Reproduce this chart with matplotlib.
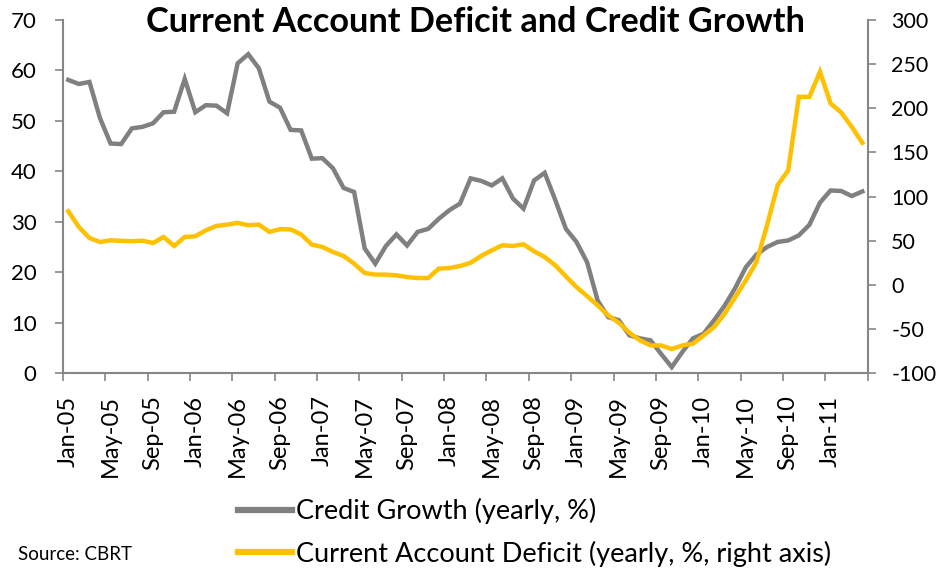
import numpy as np
import matplotlib.pyplot as plt
from matplotlib.lines import Line2D

# monthly data, Jan-05 .. Apr-11
credit_growth = [58.1, 57.3, 57.7, 50.5, 45.5, 45.4, 48.5, 48.8, 49.5, 51.7,
                 51.8, 58.3, 51.7, 53.1, 53.0, 51.5, 61.4, 63.2, 60.4, 53.8,
                 52.6, 48.2, 48.1, 42.5, 42.6, 40.6, 36.7, 35.9, 24.7, 21.7,
                 25.2, 27.5, 25.3, 28.0, 28.6, 30.6, 32.3, 33.6, 38.6, 38.1,
                 37.2, 38.6, 34.6, 32.6, 38.2, 39.7, 34.3, 28.6, 26.0, 22.0,
                 14.4, 11.1, 10.5, 7.5, 6.9, 6.5, 3.8, 1.2, 4.2, 6.9,
                 7.8, 10.5, 13.4, 16.9, 21.0, 23.5, 25.0, 26.0, 26.3, 27.3,
                 29.4, 33.8, 36.2, 36.1, 35.1, 36.0]
ca_deficit = [83.3, 65.5, 53.1, 48.5, 50.5, 49.8, 49.4, 50.0, 47.4, 54.2,
              44.0, 54.2, 55.0, 61.8, 66.7, 68.2, 70.1, 67.5, 68.2, 60.0,
              63.0, 62.8, 57.0, 45.6, 42.9, 37.2, 32.7, 24.0, 13.4, 11.6,
              11.6, 10.8, 8.8, 7.7, 7.7, 18.4, 19.0, 21.3, 25.0, 32.7,
              39.1, 44.8, 44.0, 45.9, 38.0, 31.5, 22.1, 9.6, -2.5, -12.7,
              -23.2, -34.6, -42.9, -54.2, -62.9, -68.6, -68.6, -72.7, -68.6, -66.7,
              -57.3, -47.8, -32.6, -13.8, 5.1, 25.8, 67.5, 112.8, 129.8, 212.9,
              212.9, 241.3, 205.4, 195.2, 178.9, 160.8]
month_labels = ["Jan-05", "May-05", "Sep-05", "Jan-06", "May-06", "Sep-06",
                "Jan-07", "May-07", "Sep-07", "Jan-08", "May-08", "Sep-08",
                "Jan-09", "May-09", "Sep-09", "Jan-10", "May-10", "Sep-10",
                "Jan-11"]

gray = "#808080"
gold = "#FFC000"
axcol = "#868686"
font = "Lato"
plt.rcParams["axes.unicode_minus"] = False

x = np.arange(len(credit_growth))

fig = plt.figure(figsize=(9.4, 5.68), dpi=100)
ax = fig.add_axes([0.067, 0.343, 0.856, 0.622])
ax2 = ax.twinx()

ax.plot(x, credit_growth, color=gray, lw=3.2, solid_joinstyle="miter")
ax2.plot(x, ca_deficit, color=gold, lw=3.2, solid_joinstyle="miter")

ax.set_xlim(-0.5, len(x) - 0.5)
ax.set_ylim(0, 70)
ax2.set_ylim(-100, 300)
ax.set_yticks(np.arange(0, 71, 10))
ax2.set_yticks(np.arange(-100, 301, 50))

# ticks between categories, labels every 4 months
ax.set_xticks(np.arange(-0.5, len(x), 4))
ax.set_xticklabels([])
ax.set_xticks(np.arange(0, len(x), 4), minor=True)
ax.set_xticklabels(month_labels, minor=True, rotation=90, fontsize=17,
                   family=font)
ax.tick_params(axis="x", which="major", length=6, width=1.2, color=axcol)
ax.tick_params(axis="x", which="minor", length=0, pad=16)

for a in (ax, ax2):
    a.spines["top"].set_visible(False)
    for s in ("left", "right", "bottom"):
        a.spines[s].set_color(axcol)
        a.spines[s].set_linewidth(1.5)
    a.tick_params(axis="y", length=6, width=1.2, color=axcol, labelsize=16)
    for lab in a.get_yticklabels():
        lab.set_family(font)
ax.tick_params(axis="y", pad=13)
ax2.tick_params(axis="y", pad=11, labelsize=15.5)
ax.spines["right"].set_visible(False)
ax2.spines["left"].set_visible(False)
ax2.spines["bottom"].set_visible(False)

fig.text(0.506, 0.962, "Current Account Deficit and Credit Growth",
         ha="center", va="center", fontsize=24.7, fontweight="bold", family=font)

handles = [Line2D([], [], color=gray, lw=4.5),
           Line2D([], [], color=gold, lw=4.5)]
fig.legend(handles, ["Credit Growth (yearly, %)",
                     "Current Account Deficit (yearly, %, right axis)"],
           loc="center left", bbox_to_anchor=(0.253, 0.0625), frameon=False,
           prop={"family": font, "size": 19.5}, handlelength=2.0,
           handletextpad=0.15, labelspacing=0.6, borderaxespad=0, borderpad=0)

fig.text(0.019, 0.014, "Source: CBRT", fontsize=13.5, family=font)

fig.savefig("out.png", dpi=100)
